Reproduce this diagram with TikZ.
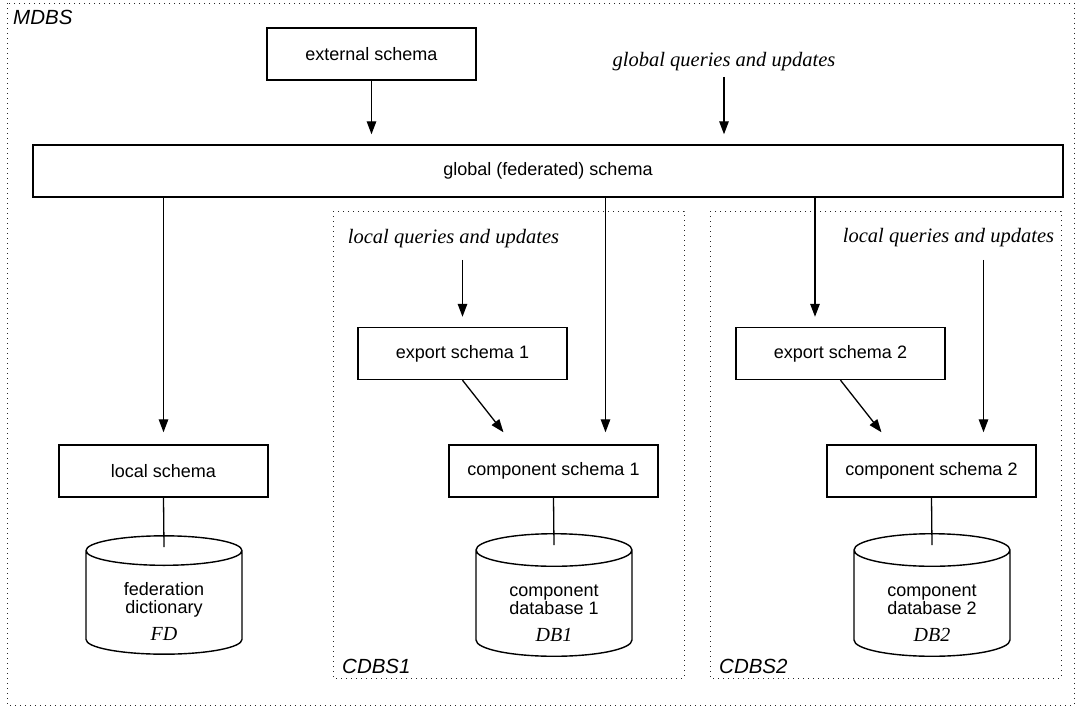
\documentclass[tikz,border=0pt]{standalone}
\usepackage{fontspec}
\setmainfont{Liberation Serif}
\setsansfont{Liberation Sans}
\usetikzlibrary{arrows.meta,shapes.geometric}

\tikzset{
    schema/.style={draw, line width=1.4pt, minimum width=209pt, minimum height=52pt,
            font=\sffamily\fontsize{18}{20}\selectfont},
    dbase/.style={cylinder, shape border rotate=90, draw, line width=1.4pt, aspect=0.34,
            minimum width=156pt, minimum height=116pt, align=center, anchor=shape center,
            font=\sffamily\fontsize{18}{18}\selectfont},
    query/.style={font=\itshape\fontsize{20.5}{22}\selectfont},
    sysname/.style={font=\sffamily\itshape\fontsize{20.5}{22}\selectfont, inner sep=0pt},
    frame/.style={line width=0.9pt, dash pattern=on 0.9pt off 4.1pt, black!85},
    conn/.style={line width=1.3pt},
    arr/.style={line width=1.3pt, -{Triangle[length=13pt, width=9.5pt]}}
}

\begin{document}
\begin{tikzpicture}[x=1pt, y=-1pt]

        \useasboundingbox (0, 0) rectangle (1080, 707);

        % MDBS and the two component systems
        \draw[frame] (7, 3) rectangle (1074, 705);
        \node[sysname, anchor=base west] (mdbs) at (13, 24) {MDBS};

        \foreach \x [count=\i] in {333, 710} {
                \draw[frame] (\x, 211) rectangle ++(351, 467);
                \node[sysname, anchor=base west] (cdbs\i) at (\x + 9, 673) {CDBS\i};
            }

        \node[schema] (ext) at (371.5, 54) {external schema};
        \node[query, anchor=base] (gqu) at (724, 66) {global queries and updates};
        \node[schema, minimum width=1030pt] (glob) at (548, 171) {global (federated) schema};

        \node[schema] (ls) at (163.5, 471) {local schema};
        \node[dbase] (fd) at (164, 595) {\rule{0pt}{26pt}federation\\dictionary\\[9pt]{\rmfamily\itshape\fontsize{20}{20}\selectfont FD}};

        \node[query, anchor=base] (lq1) at (453.5, 243) {local queries and updates};
        \node[query, anchor=base] (lq2) at (948.5, 242) {local queries and updates};

        \foreach \dx [count=\i] in {0, 378} {
                \node[schema] (ex\i) at (462.5 + \dx, 353.5) {export schema \i};
                \node[schema] (cs\i) at (553.5 + \dx, 471) {component schema \i};
                \node[dbase] (db\i) at (554 + \dx, 595) {\rule{0pt}{26pt}component\\database \i\\[9pt]{\rmfamily\itshape\fontsize{20}{20}\selectfont DB\i}};
                \draw[arr] (ex\i.south) -- ([xshift=-50pt, yshift=12pt]cs\i.north);
                \draw[conn] (cs\i.south) -- ([yshift=-12pt]db\i.top);
            }

        \coordinate (cs1in) at ([xshift=52pt, yshift=12pt]cs1.north);
        \coordinate (cs2in) at ([xshift=52pt, yshift=12pt]cs2.north);
        \coordinate (ex2in) at ([xshift=-25.5pt, yshift=10pt]ex2.north);

        \draw[arr, shorten >=10pt] (ext.south) -- (ext.south |- glob.north);
        \draw[arr, shorten <=3pt, shorten >=10pt] (gqu.south) -- (gqu.south |- glob.north);

        \draw[arr, shorten >=12pt] (glob.south -| ls.north) -- (ls.north);
        \draw[conn] (ls.south) -- ([yshift=-12pt]fd.top);
        \draw[arr] (glob.south -| cs1in) -- (cs1in);
        \draw[arr] (glob.south -| ex2in) -- (ex2in);

        \draw[arr, shorten <=9pt, shorten >=10pt] (lq1.south -| ex1.north) -- (ex1.north);
        \draw[arr, shorten <=10pt] (lq2.south -| cs2in) -- (cs2in);

    \end{tikzpicture}
\end{document}
